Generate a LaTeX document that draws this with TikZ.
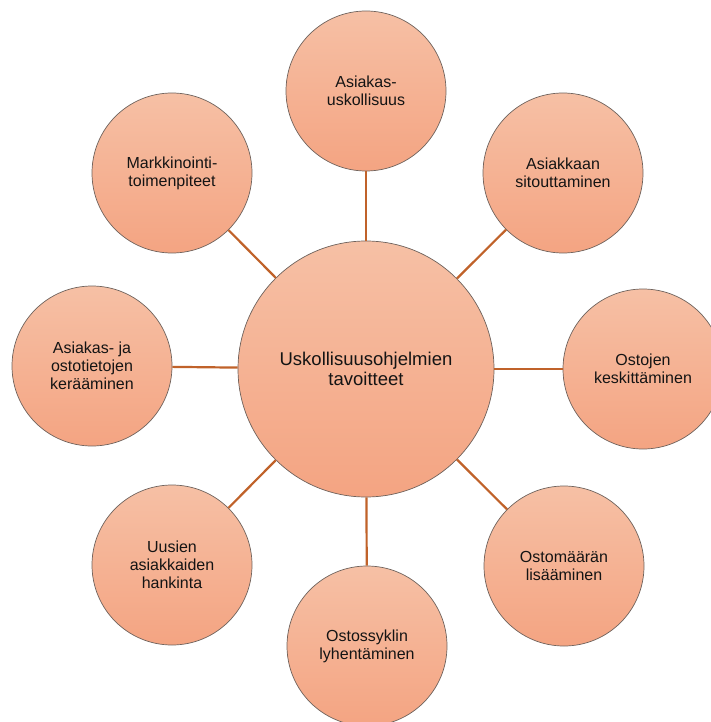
\documentclass[tikz,border=0pt]{standalone}
\usepackage{fontspec}
\setmainfont{Liberation Sans}
\definecolor{topc}{HTML}{F6C0A5}
\definecolor{botc}{HTML}{F4A482}
\definecolor{linec}{HTML}{C0622A}
\definecolor{edgec}{HTML}{6E625C}
\definecolor{txt}{HTML}{141414}
\begin{document}
\begin{tikzpicture}[x=1pt,y=-1pt,
  bubble/.style={circle,draw=edgec,line width=0.7pt,top color=topc,bottom color=botc,
    minimum size=160pt,inner sep=0pt,align=center,text=txt,font=\fontsize{16}{18}\selectfont},
  hub/.style={circle,draw=edgec,line width=0.7pt,top color=topc,bottom color=botc,
    minimum size=256pt,inner sep=0pt,align=center,text=txt,font=\fontsize{18.5}{20.5}\selectfont},
  link/.style={draw=linec,line width=2.2pt}]
\useasboundingbox (0,0) rectangle (711,722);
\node[hub] (c) at (366,369) {Uskollisuusohjelmien\\tavoitteet};
\node[bubble] (n) at (366,91) {Asiakas-\\uskollisuus};
\node[bubble] (ne) at (563,173) {Asiakkaan\\sitouttaminen};
\node[bubble] (e) at (643,369) {Ostojen\\keskittäminen};
\node[bubble] (se) at (564,566) {Ostomäärän\\lisääminen};
\node[bubble] (s) at (367,646) {Ostossyklin\\lyhentäminen};
\node[bubble] (sw) at (172,565) {Uusien\\asiakkaiden\\hankinta};
\node[bubble] (w) at (92,366) {Asiakas- ja\\ostotietojen\\kerääminen};
\node[bubble] (nw) at (172,173) {Markkinointi-\\toimenpiteet};
\foreach \t in {n,ne,e,se,s,sw,w,nw}{\draw[link] (c) -- (\t);}
\end{tikzpicture}
\end{document}
